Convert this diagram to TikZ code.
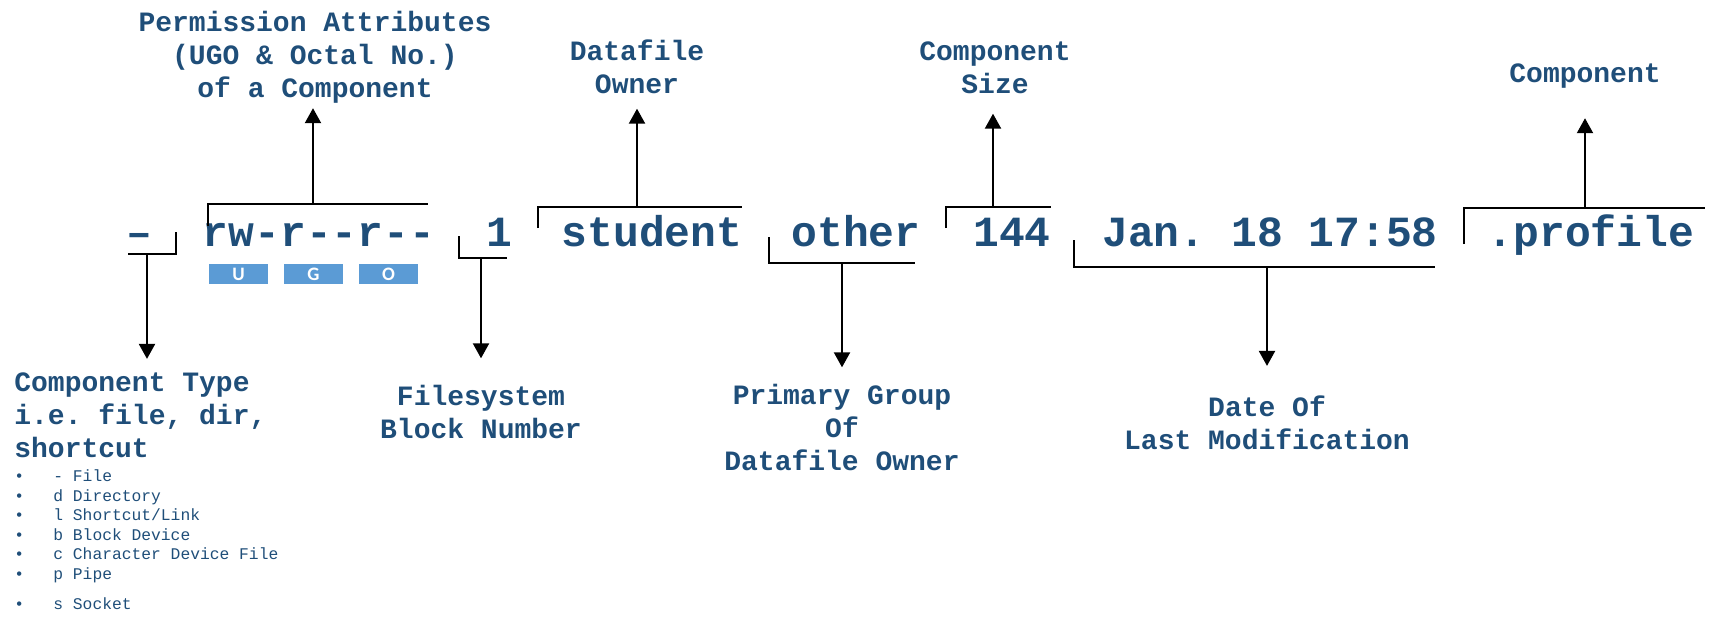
\documentclass[tikz,border=0pt]{standalone}
\usepackage{fontspec}
\setmonofont{Liberation Mono}
\newfontfamily\ugofont{Carlito}
\usetikzlibrary{arrows.meta}
\definecolor{lsblue}{RGB}{31,78,121}
\definecolor{ugoblue}{RGB}{91,155,213}

\begin{document}
\begin{tikzpicture}[x=0.5pt,y=-0.5pt,
  tok/.style={inner sep=0pt,anchor=base,text=lsblue,font=\ttfamily\bfseries\fontsize{21.5pt}{24pt}\selectfont},
  lbl/.style={inner sep=0pt,anchor=base,align=center,text=lsblue,font=\ttfamily\bfseries\fontsize{14pt}{16.5pt}\selectfont},
  item/.style={inner sep=0pt,anchor=base west,text=lsblue,font=\ttfamily\fontsize{8.15pt}{9.8pt}\selectfont},
  ugo/.style={fill=ugoblue,text=white,inner sep=0pt,minimum width=29.5pt,minimum height=10pt,font=\ugofont\bfseries\fontsize{9.5pt}{10pt}\selectfont},
  brace/.style={line width=0.75pt},
  arr/.style={line width=1.1pt,-{Triangle[length=7.5pt,width=8pt]}}]
  \useasboundingbox (0,0) rectangle (1725,622);

  \node[tok] (type) at (139,246) {–};
  \node[tok] (perm) at (319,246) {rw-r--r--};
  \node[tok] (block) at (499,246) {1};
  \node[tok] (owner) at (652,246) {student};
  \node[tok] (group) at (856,246) {other};
  \node[tok] (size) at (1012,246) {144};
  \node[tok] (date) at (1270,246) {Jan. 18 17:58};
  \node[tok] (name) at (1591,246) {.profile};

  \node[ugo] (u) at (238.5,274) {U};
  \node[ugo] (g) at (313.5,274) {G};
  \node[ugo] (o) at (388.5,274) {O};

  \draw[brace] (128,254) -- (176,254) -- (176,232);
  \draw[brace] (208,226) -- (208,204) -- (428,204);
  \draw[brace] (459,236) -- (459,258) -- (507,258);
  \draw[brace] (538,228) -- (538,207) -- (742,207);
  \draw[brace] (769,237) -- (769,263) -- (915,263);
  \draw[brace] (946,228) -- (946,207) -- (1051,207);
  \draw[brace] (1074,240) -- (1074,267) -- (1435,267);
  \draw[brace] (1464,244) -- (1464,208) -- (1705,208);
  \coordinate (typeB) at (147,254);
  \coordinate (permB) at (313,204);
  \coordinate (blockB) at (481,258);
  \coordinate (ownerB) at (637,207);
  \coordinate (groupB) at (842,263);
  \coordinate (sizeB) at (993,207);
  \coordinate (dateB) at (1267,267);
  \coordinate (nameB) at (1585,208);

  \node[lbl] (permL) at (315,97) {Permission Attributes\\(UGO \& Octal No.)\\of a Component};
  \node[lbl] (ownerL) at (637,93) {Datafile\\Owner};
  \node[lbl] (sizeL) at (995,93) {Component\\Size};
  \node[lbl] (nameL) at (1585,82) {Component};
  \node[lbl,anchor=base west,align=left] (typeL) at (14,457) {Component Type\\i.e. file, dir,\\shortcut};
  \node[lbl] (blockL) at (481,438) {Filesystem\\Block Number};
  \node[lbl] (groupL) at (842,470) {Primary Group\\Of\\Datafile Owner};
  \node[lbl] (dateL) at (1267,449) {Date Of\\Last Modification};

  \draw[arr,shorten >=2.5pt] (permB) -- (permB |- permL.south);
  \draw[arr,shorten >=7.5pt] (ownerB) -- (ownerB |- ownerL.south);
  \draw[arr,shorten >=10pt] (sizeB) -- (sizeB |- sizeL.south);
  \draw[arr,shorten >=15pt] (nameB) -- (nameB |- nameL.south);
  \draw[arr,shorten >=6.5pt] (typeB) -- (typeB |- typeL.north);
  \draw[arr,shorten >=13pt] (blockB) -- (blockB |- blockL.north);
  \draw[arr,shorten >=8pt] (groupB) -- (groupB |- groupL.north);
  \draw[arr,shorten >=14.5pt] (dateB) -- (dateB |- dateL.north);

  \foreach \y/\t [count=\i] in {481/{- File}, 501/{d Directory}, 520/{l Shortcut/Link},
    540/{b Block Device}, 559/{c Character Device File}, 579/{p Pipe}, 609/{s Socket}}
    \node[item] (it\i) at (14,\y) {\makebox[19.5pt][l]{•}\t};
\end{tikzpicture}
\end{document}
